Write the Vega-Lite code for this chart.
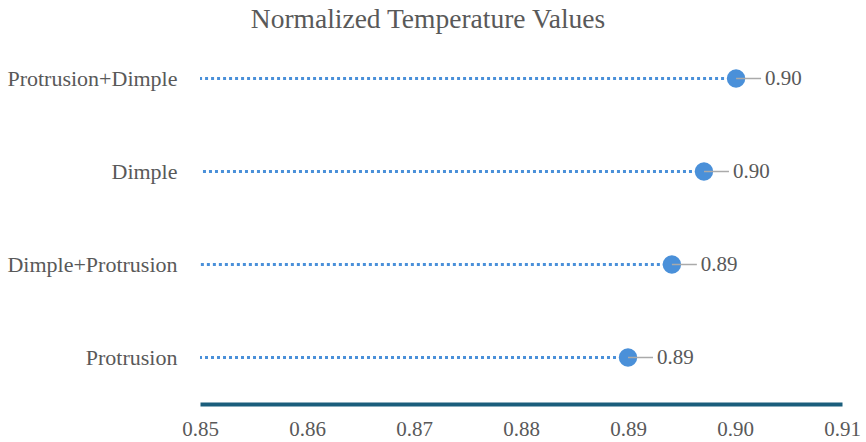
{
  "$schema": "https://vega.github.io/schema/vega-lite/v6.json",
  "autosize": {"type": "none"},
  "padding": {"left": 200, "top": 32, "right": 24, "bottom": 38},
  "width": 642,
  "height": 372,
  "title": {
    "text": "Normalized Temperature Values",
    "font": "Liberation Serif",
    "fontSize": 27.5,
    "fontWeight": "normal",
    "color": "#595959",
    "anchor": "middle",
    "dx": -93,
    "offset": -1
  },
  "config": {
    "view": {"stroke": null},
    "font": "Liberation Serif"
  },
  "data": {
    "values": [
      {"config": "Protrusion+Dimple", "value": 0.9001},
      {"config": "Dimple", "value": 0.8971},
      {"config": "Dimple+Protrusion", "value": 0.8941},
      {"config": "Protrusion", "value": 0.8900}
    ]
  },
  "encoding": {
    "y": {
      "field": "config",
      "type": "nominal",
      "sort": ["Protrusion+Dimple", "Dimple", "Dimple+Protrusion", "Protrusion"],
      "title": null,
      "axis": {
        "domain": false,
        "ticks": false,
        "labelFont": "Liberation Serif",
        "labelFontSize": 22,
        "labelColor": "#595959",
        "labelPadding": 23,
        "labelLimit": 300
      }
    }
  },
  "layer": [
    {
      "mark": {"type": "rule", "strokeDash": [3, 3], "strokeWidth": 3, "color": "#4a90d9"},
      "encoding": {
        "x": {
          "field": "value",
          "type": "quantitative",
          "scale": {"domain": [0.85, 0.91], "nice": false, "zero": false},
          "title": null,
          "axis": {
            "values": [0.85, 0.86, 0.87, 0.88, 0.89, 0.90, 0.91],
            "format": ".2f",
            "grid": false,
            "ticks": false,
            "labelFlush": false,
            "labelBound": false,
            "domainColor": "#1b5e7c",
            "domainWidth": 4,
            "labelFont": "Liberation Serif",
            "labelFontSize": 21,
            "labelColor": "#595959",
            "labelPadding": 14
          }
        },
        "x2": {"datum": 0.85}
      }
    },
    {
      "mark": {"type": "point", "filled": true, "size": 340, "color": "#4a90d9", "opacity": 1},
      "encoding": {"x": {"field": "value", "type": "quantitative"}}
    },
    {
      "mark": {"type": "rule", "color": "#aaaaaa", "strokeWidth": 1.5, "x2Offset": 25},
      "encoding": {"x": {"field": "value", "type": "quantitative"}, "x2": {"field": "value"}}
    },
    {
      "mark": {"type": "text", "align": "left", "dx": 29, "fontSize": 21, "color": "#595959", "font": "Liberation Serif"},
      "encoding": {
        "x": {"field": "value", "type": "quantitative"},
        "text": {"field": "value", "type": "quantitative", "format": ".2f"}
      }
    }
  ]
}
